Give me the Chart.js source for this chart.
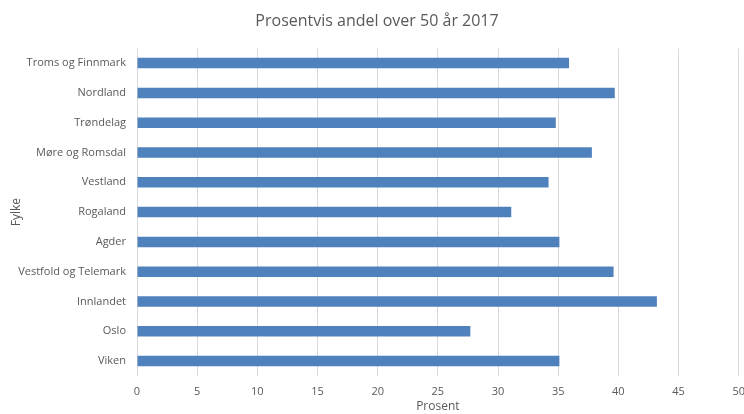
<!DOCTYPE html>
<html>
<head>
<meta charset="utf-8">
<script src="https://cdn.jsdelivr.net/npm/chart.js@4.4.0/dist/chart.umd.min.js"></script>
<style>
  html, body { margin: 0; padding: 0; background: #fff; overflow: hidden; }
  #wrap { width: 754px; height: 414px; }
</style>
</head>
<body>
<div id="wrap"><canvas id="chart" width="754" height="414"></canvas></div>
<script>
// Fylker, topp til bunn
var fylker = ["Troms og Finnmark", "Nordland", "Trøndelag", "Møre og Romsdal", "Vestland",
  "Rogaland", "Agder", "Vestfold og Telemark", "Innlandet", "Oslo", "Viken"];
// Prosentvis andel over 50 år 2017
var andel = [35.9, 39.7, 34.8, 37.8, 34.2, 31.1, 35.1, 39.6, 43.2, 27.7, 35.1];
var xTicks = [0, 5, 10, 15, 20, 25, 30, 35, 40, 45, 50];

var font = "'Open Sans', sans-serif";
var grey = "#595959";

var ctx = document.getElementById("chart");
var chart = new Chart(ctx, {
  type: 'bar',
  data: {
    labels: fylker,
    datasets: [{
      label: "Andel",
      data: andel,
      backgroundColor: "#4f81bd",
      borderColor: "#4f81bd",
      borderWidth: 0,
      categoryPercentage: 0.68,
      barPercentage: 0.52
    }]
  },
  options: {
    indexAxis: 'y',
    responsive: false,
    animation: false,
    layout: { padding: { left: 0, right: 0, top: 0, bottom: 0 } },
    plugins: {
      legend: { display: false },
      tooltip: { enabled: false },
      title: {
        display: true,
        text: "Prosentvis andel over 50 år 2017",
        color: grey,
        font: { family: font, size: 16, weight: 'normal' },
        padding: { top: 12, bottom: 17 }
      }
    },
    scales: {
      x: {
        min: 0,
        max: 50,
        afterBuildTicks: function(scale) {
          scale.ticks = xTicks.map(function(v) { return { value: v }; });
        },
        afterFit: function(scale) { scale.height = 38; },
        grid: { color: "#d9d9d9", drawTicks: false },
        border: { display: false },
        ticks: { color: grey, font: { family: font, size: 11 }, padding: 9, maxRotation: 0 },
        title: { display: true, text: "Prosent", color: grey, font: { family: font, size: 12 }, padding: 0 }
      },
      y: {
        afterFit: function(scale) { scale.width = 137; },
        grid: { display: false },
        border: { display: false },
        ticks: { color: grey, font: { family: font, size: 11 }, padding: 3 },
        title: { display: true, text: "Fylke", color: grey, font: { family: font, size: 12 }, padding: { top: 9, bottom: 0 } }
      }
    }
  }
});
</script>
</body>
</html>
